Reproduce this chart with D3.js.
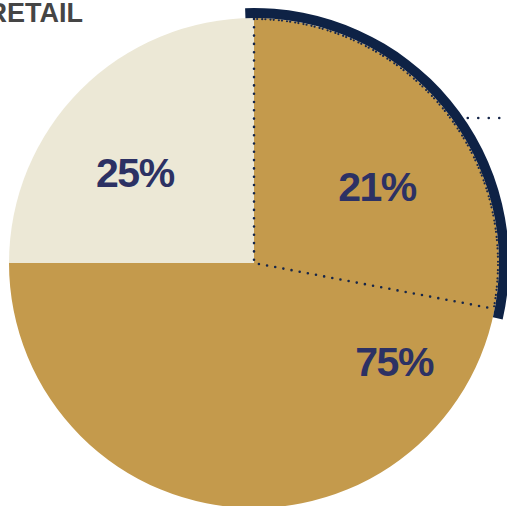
<!DOCTYPE html>
<html><head><meta charset="utf-8">
<script src="https://cdn.jsdelivr.net/npm/d3@7/dist/d3.min.js"></script>
<style>
html,body{margin:0;padding:0;background:#fff;overflow:hidden}
svg{display:block}
</style></head>
<body>
<svg id="c" width="507" height="506"></svg>
<script>
// ---- data ----
const categories = ["Other", "Retail"];
const shares = [75, 25];                 // % of total
const shareLabels = ["75%", "25%"];
const subCategory = "Highlighted";
const subShareDrawn = 28;                // sector extent as drawn (% of circle)
const subLabel = "21%";
const title = "RETAIL";

// ---- layout ----
const W = 507, H = 506;
const cx = 254, cy = 263, R = 245;
const colors = {Other: "#c49a4c", Retail: "#ece8d6"};
const navy = "#0e2245", textNavy = "#2c3164", dotCol = "#16264a";

const svg = d3.select("#c");
const g = svg.append("g").attr("transform", `translate(${cx},${cy})`);

const pie = d3.pie().sort(null).value(d => d.v);
const arcs = pie(categories.map((c, i) => ({c, v: shares[i], label: shareLabels[i]})));
const arc = d3.arc().innerRadius(0).outerRadius(R);

g.selectAll("path.slice").data(arcs).enter().append("path")
  .attr("class", "slice")
  .attr("d", arc)
  .attr("fill", d => colors[d.data.c]);

// sub-sector scale
const angle = d3.scaleLinear().domain([0, 100]).range([0, 2 * Math.PI]);
const subStart = 0, subEnd = angle(subShareDrawn);
const pad = 2 * Math.PI / 180;

// navy highlight band
g.append("path")
  .attr("d", d3.arc().innerRadius(R).outerRadius(R + 10)
    .startAngle(subStart - pad).endAngle(subEnd + pad)())
  .attr("fill", navy);

// dotted sector outline
const pt = (a, r) => [r * Math.sin(a), -r * Math.cos(a)];
const outline = d3.path();
outline.moveTo(...pt(subStart, R - 1));
outline.lineTo(0, 0);
outline.lineTo(...pt(subEnd, R - 3));
g.append("path").attr("d", outline.toString())
  .attr("fill", "none").attr("stroke", dotCol)
  .attr("stroke-width", 2.6).attr("stroke-linecap", "round")
  .attr("stroke-dasharray", "0 8.3");
g.append("path")
  .attr("d", d3.arc().innerRadius(R - 1).outerRadius(R - 1)
    .startAngle(subStart).endAngle(subEnd)())
  .attr("fill", "none").attr("stroke", dotCol)
  .attr("stroke-width", 2.2).attr("stroke-linecap", "round")
  .attr("stroke-dasharray", "0 8.3");

// leader line from band
const ly = -145;
const lx = Math.sqrt((R + 10) ** 2 - ly * ly);
g.append("line")
  .attr("x1", lx + 4).attr("y1", ly).attr("x2", W - cx + 5).attr("y2", ly)
  .attr("stroke", dotCol).attr("stroke-width", 2.6)
  .attr("stroke-linecap", "round").attr("stroke-dasharray", "0 10.5");

// labels
const labelFont = "'Liberation Sans', Arial, sans-serif";
function label(txt, a, r, dy) {
  const [x, y] = pt(a, r);
  g.append("text").attr("x", x).attr("y", y + dy)
    .attr("text-anchor", "middle")
    .attr("font-family", labelFont).attr("font-weight", "bold")
    .attr("font-size", 41).attr("letter-spacing", -1.5)
    .attr("fill", textNavy).text(txt);
}
label(arcs[1].data.label, -52.6 * Math.PI / 180, 150, 15);
label(subLabel, 58 * Math.PI / 180, 145, 15);
label(arcs[0].data.label, 125 * Math.PI / 180, 171, 15);

// title
svg.append("text").attr("x", 83).attr("y", 22)
  .attr("text-anchor", "end")
  .attr("font-family", labelFont).attr("font-weight", "bold")
  .attr("font-size", 27).attr("fill", "#454545").text(title);
</script>
</body></html>
